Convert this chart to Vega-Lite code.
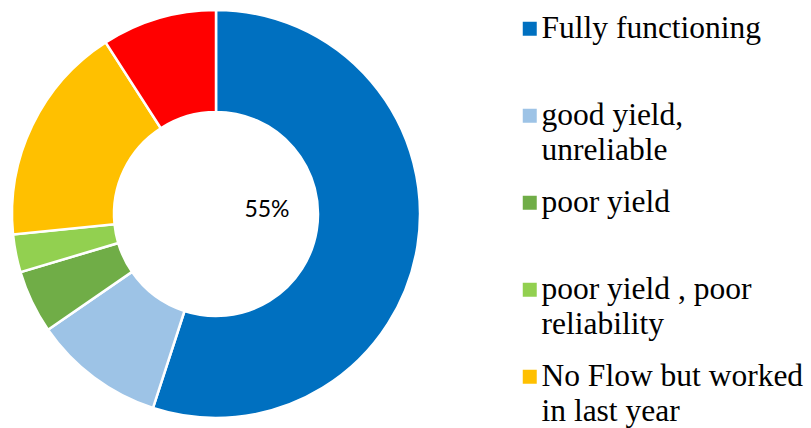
{
  "$schema": "https://vega.github.io/schema/vega-lite/v6.json",
  "width": 432,
  "height": 428,
  "padding": 0,
  "autosize": {"type": "pad"},
  "background": "white",
  "config": {"view": {"stroke": null}, "style": {"guide-label": {"lineHeight": 35}}},
  "data": {
    "values": [
      {"category": "Fully functioning", "share": 0.55, "rank": 1},
      {"category": "good yield, unreliable", "share": 0.104, "rank": 2},
      {"category": "poor yield", "share": 0.05, "rank": 3},
      {"category": "poor yield , poor reliability", "share": 0.03, "rank": 4},
      {"category": "No Flow but worked in last year", "share": 0.175, "rank": 5},
      {"category": "Not functioning", "share": 0.091, "rank": 6}
    ]
  },
  "layer": [
    {
      "mark": {"type": "arc", "outerRadius": 204, "innerRadius": 102, "stroke": "white", "strokeWidth": 2.5},
      "encoding": {
        "theta": {"field": "share", "type": "quantitative", "stack": true},
        "order": {"field": "rank", "type": "quantitative"},
        "color": {
          "field": "category",
          "type": "nominal",
          "scale": {
            "domain": ["Fully functioning", "good yield, unreliable", "poor yield", "poor yield , poor reliability", "No Flow but worked in last year", "Not functioning"],
            "range": ["#0070C0", "#9DC3E6", "#70AD47", "#92D050", "#FFC000", "#FF0000"]
          },
          "legend": {
            "orient": "none",
            "legendX": 514,
            "legendY": 13,
            "title": null,
            "padding": 0,
            "values": ["Fully functioning", "good yield, unreliable", "poor yield", "poor yield , poor reliability", "No Flow but worked in last year"],
            "symbolType": "square",
            "symbolSize": 196,
            "symbolStrokeWidth": 0,
            "labelFont": "Liberation Serif",
            "labelFontSize": 31.5,
            "labelColor": "#000000",
            "labelLimit": 400,
            "labelOffset": -4,
            "rowPadding": 19,
            "gridAlign": "all",
            "labelExpr": "datum.label == 'good yield, unreliable' ? ['good yield,', 'unreliable'] : datum.label == 'poor yield , poor reliability' ? ['poor yield , poor', 'reliability'] : datum.label == 'No Flow but worked in last year' ? ['No Flow but worked', 'in last year'] : [datum.label, '']"
          }
        }
      }
    },
    {
      "transform": [{"filter": "datum.category == 'Fully functioning'"}],
      "mark": {"type": "text", "font": "Lato", "fontSize": 23, "dx": 51, "dy": -4, "color": "#000000"},
      "encoding": {
        "text": {"field": "share", "type": "quantitative", "format": ".0%"}
      }
    }
  ]
}
